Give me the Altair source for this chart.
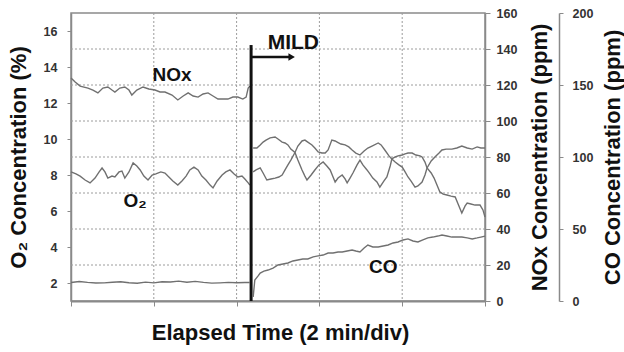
import altair as alt
import pandas as pd

# ---------------- data (time in minutes, 2 min per division) ----------------
nox_pre_t = [0.00, 0.10, 0.22, 0.41, 0.53, 0.65, 0.77, 0.89, 0.99, 1.06, 1.18, 1.30, 1.40, 1.47,
             1.59, 1.74, 1.88, 2.03, 2.15, 2.27, 2.44, 2.58, 2.71, 2.83, 2.95, 3.07, 3.19, 3.31,
             3.43, 3.55, 3.67, 3.79, 3.91, 4.03, 4.15, 4.23, 4.28, 4.32]
nox_pre_v = [123.9, 121.7, 119.4, 118.3, 117.2, 115.6, 118.3, 118.9, 117.2, 116.1, 118.3, 118.9,
             117.2, 114.4, 117.2, 118.9, 117.8, 117.2, 116.1, 116.1, 114.4, 111.7, 113.9, 115.6,
             113.9, 113.3, 115.0, 115.6, 113.9, 112.2, 112.2, 112.2, 113.3, 113.3, 112.2, 113.3,
             118.3, 119.4]
nox_post_t = [4.40, 4.49, 4.57, 4.64, 4.71, 4.81, 4.93, 5.00, 5.10, 5.17, 5.24, 5.31, 5.41, 5.48,
              5.58, 5.65, 5.70, 5.80, 5.89, 5.99, 6.09, 6.18, 6.26, 6.33, 6.38, 6.45, 6.55, 6.62,
              6.67, 6.74, 6.81, 6.91, 6.98, 7.05, 7.15, 7.22, 7.29, 7.39, 7.46, 7.56, 7.63, 7.71,
              7.75, 7.83, 7.90, 8.00, 8.07, 8.14, 8.24, 8.33, 8.43, 8.48, 8.55, 8.60, 8.70, 8.77,
              8.84, 8.91, 8.99, 9.08, 9.18, 9.28, 9.35, 9.44, 9.52, 9.57, 9.66, 9.76, 9.88, 9.95,
              10.00]
nox_post_v = [85.0, 85.0, 86.7, 88.3, 89.4, 90.6, 91.1, 90.0, 88.3, 87.8, 86.7, 84.4, 82.5, 78.3,
              72.8, 69.4, 67.2, 70.0, 72.8, 75.6, 77.2, 75.0, 72.8, 68.9, 66.1, 68.3, 70.0, 67.8,
              65.6, 68.3, 71.1, 75.6, 78.3, 75.6, 72.8, 70.6, 68.3, 66.1, 63.3, 66.7, 68.9, 75.0,
              78.9, 80.0, 80.6, 81.1, 81.7, 82.2, 82.2, 81.1, 80.6, 80.0, 77.2, 73.9, 71.1, 68.3,
              64.4, 60.6, 59.4, 58.9, 58.3, 57.8, 53.9, 48.9, 52.8, 54.4, 53.9, 53.3, 53.3, 50.6,
              46.7]

o2_pre_t = [0.00, 0.12, 0.22, 0.34, 0.46, 0.58, 0.68, 0.75, 0.82, 0.89, 0.99, 1.06, 1.16, 1.23,
            1.30, 1.40, 1.50, 1.59, 1.67, 1.76, 1.86, 1.96, 2.05, 2.17, 2.27, 2.34, 2.46, 2.58,
            2.68, 2.78, 2.87, 2.97, 3.07, 3.16, 3.26, 3.36, 3.43, 3.53, 3.65, 3.74, 3.84, 3.94,
            4.03, 4.13, 4.20, 4.28, 4.32]
o2_pre_v = [8.17, 8.06, 7.94, 7.72, 7.56, 7.83, 8.17, 8.39, 8.17, 7.83, 7.94, 7.89, 8.17, 8.22,
            7.83, 8.17, 8.67, 8.50, 8.28, 7.94, 7.72, 8.00, 8.06, 8.17, 8.11, 7.94, 7.67, 7.44,
            7.67, 7.94, 8.28, 8.44, 8.28, 7.94, 7.72, 7.44, 7.28, 7.67, 8.00, 8.17, 8.28, 8.06,
            7.89, 7.94, 7.78, 7.56, 7.44]
o2_post_t = [4.40, 4.47, 4.57, 4.64, 4.73, 4.83, 4.93, 5.02, 5.10, 5.17, 5.24, 5.31, 5.41, 5.48,
             5.58, 5.65, 5.72, 5.82, 5.89, 5.97, 6.06, 6.14, 6.21, 6.30, 6.38, 6.43, 6.52, 6.62,
             6.71, 6.79, 6.88, 6.98, 7.08, 7.17, 7.27, 7.42, 7.49, 7.58, 7.68, 7.75, 7.83, 7.92,
             8.00, 8.07, 8.14, 8.21, 8.31, 8.38, 8.48, 8.55, 8.60, 8.70, 8.79, 8.89, 8.96, 9.06,
             9.20, 9.32, 9.44, 9.57, 9.69, 9.81, 9.90, 10.00]
o2_post_v = [8.17, 8.28, 8.39, 8.11, 7.72, 7.78, 7.83, 7.89, 8.00, 8.28, 8.56, 8.83, 9.25, 9.61,
             9.89, 9.94, 9.83, 9.67, 9.50, 9.28, 9.22, 9.22, 9.39, 9.94, 9.89, 9.83, 9.72, 9.67,
             9.56, 9.39, 9.22, 9.11, 9.33, 9.50, 9.61, 9.78, 9.67, 9.39, 9.06, 8.89, 8.72, 8.56,
             8.44, 8.17, 7.89, 7.67, 7.33, 7.39, 7.61, 8.00, 8.39, 8.78, 9.00, 9.22, 9.39, 9.44,
             9.44, 9.50, 9.61, 9.50, 9.44, 9.56, 9.50, 9.50]

co_pre_t = [0.0, 0.2, 0.4, 0.6, 0.8, 1.0, 1.2, 1.4, 1.6, 1.8, 2.0, 2.2, 2.4, 2.6, 2.8, 3.0,
            3.2, 3.4, 3.6, 3.8, 4.0, 4.2, 4.32]
co_pre_v = [12.8, 13.5, 12.9, 12.5, 12.6, 13.0, 13.4, 12.7, 12.3, 13.1, 12.6, 13.4, 13.2, 13.8,
            13.0, 13.6, 12.9, 12.4, 12.6, 12.9, 12.7, 12.8, 12.8]
co_post_t = [4.40, 4.44, 4.52, 4.57, 4.66, 4.76, 4.88, 5.00, 5.12, 5.24, 5.36, 5.48, 5.60, 5.72,
             5.85, 5.97, 6.09, 6.21, 6.33, 6.45, 6.55, 6.67, 6.79, 6.88, 6.98, 7.08, 7.17, 7.29,
             7.42, 7.54, 7.66, 7.78, 7.90, 8.02, 8.14, 8.26, 8.38, 8.50, 8.62, 8.74, 8.86, 8.96,
             9.08, 9.20, 9.32, 9.44, 9.57, 9.69, 9.81, 9.90, 10.00]
co_post_v = [2.8, 14.6, 17.4, 19.4, 20.8, 21.5, 22.9, 25.0, 25.7, 26.4, 27.8, 28.5, 29.2, 29.2,
             30.6, 31.3, 31.9, 33.3, 33.3, 34.0, 34.0, 34.7, 35.4, 34.7, 34.0, 36.8, 38.9, 37.5,
             37.5, 38.2, 38.9, 40.3, 41.0, 42.4, 43.1, 41.7, 41.0, 42.4, 43.8, 44.4, 45.1, 45.8,
             45.1, 44.4, 44.4, 44.4, 43.8, 43.1, 43.8, 44.4, 45.1]

x_ticks = [0, 2, 4, 6, 8, 10]
o2_ticks = [2, 4, 6, 8, 10, 12, 14, 16]
nox_ticks = [0, 20, 40, 60, 80, 100, 120, 140, 160]
co_ticks = [0, 50, 100, 150, 200]
x_grid = [2, 4, 6, 8]
nox_grid = [20, 40, 60, 80, 100, 120, 140]

# annotations (data units of time / O2 axis)
switch_t = 4.35
ann_text = ["NOx", "O₂", "CO"]
ann_t = [2.44, 1.55, 7.54]
ann_y = [13.58, 6.56, 2.89]

FONT = "Liberation Sans"
LINE = "#707070"
GRID = "#9c9c9c"


def frame(pre_t, pre_v, post_t, post_v):
    return pd.DataFrame({
        "t": pre_t + post_t,
        "v": pre_v + post_v,
        "seg": ["pre"] * len(pre_t) + ["post"] * len(post_t),
    })


nox_df = frame(nox_pre_t, nox_pre_v, nox_post_t, nox_post_v)
o2_df = frame(o2_pre_t, o2_pre_v, o2_post_t, o2_post_v)
co_df = frame(co_pre_t, co_pre_v, co_post_t, co_post_v)

x_scale = alt.Scale(domain=[0, 10], nice=False, zero=False)
x_axis = alt.Axis(values=x_ticks, labels=False, tickSize=5, grid=False,
                  title="Elapsed Time (2 min/div)",
                  titleX=209, titleY=31, titleBaseline="middle", titleAlign="center",
                  domainWidth=2)
X = alt.X("t:Q", scale=x_scale, axis=x_axis)

o2_scale = alt.Scale(domain=[1, 17], nice=False, zero=False)
nox_scale = alt.Scale(domain=[0, 160], nice=False)
nox_axis = alt.Axis(orient="right", values=nox_ticks, grid=False, tickSize=5, labelPadding=6,
                    labelOverlap=False,
                    title="NOx Concentration (ppm)", titleX=54, titleY=144,
                    titleAngle=270, titleBaseline="middle", titleAlign="center")

# ---- NOx layer (dotted grid drawn from the NOx / time scales) ----
grid_h_df = pd.DataFrame({"v": nox_grid, "t": [0] * len(nox_grid), "t2": [10] * len(nox_grid)})
grid_h = alt.Chart(grid_h_df).mark_rule(
    color=GRID, strokeWidth=1, strokeDash=[2, 2]).encode(
    x=X, x2="t2:Q",
    y=alt.Y("v:Q", scale=nox_scale, axis=nox_axis))
grid_v = alt.Chart(pd.DataFrame({"t": x_grid})).mark_rule(
    color=GRID, strokeWidth=1, strokeDash=[2, 2]).encode(
    x=alt.X("t:Q", scale=x_scale, axis=x_axis))

nox_line = alt.Chart(nox_df).mark_line(color=LINE, strokeWidth=1.4).encode(
    x=X,
    y=alt.Y("v:Q", scale=nox_scale, axis=nox_axis),
    detail="seg:N",
)
nox_layer = alt.layer(grid_h, grid_v, nox_line)

# ---- O2 layer with annotations ----
o2_axis = alt.Axis(orient="left", values=o2_ticks, grid=False, tickSize=4, labelPadding=10,
                   labelOverlap=False, title="O₂ Concentration (%)",
                   titleX=-53, titleY=144, titleAngle=270,
                   titleBaseline="middle", titleAlign="center")
o2_line = alt.Chart(o2_df).mark_line(color=LINE, strokeWidth=1.4).encode(
    x=X,
    y=alt.Y("v:Q", scale=o2_scale, axis=o2_axis),
    detail="seg:N",
)

bar = alt.Chart(pd.DataFrame({"t": [switch_t], "top": [15.22], "bot": [1.0]})).mark_rule(
    color="#111", strokeWidth=3).encode(
    x=X, y=alt.Y("top:Q", scale=o2_scale, axis=o2_axis), y2="bot:Q")

arrow = alt.Chart(pd.DataFrame({"t": [switch_t], "t2": [5.3], "y": [14.56]})).mark_rule(
    color="#111", strokeWidth=2.5).encode(
    x=X, x2="t2:Q", y=alt.Y("y:Q", scale=o2_scale, axis=o2_axis))

head = alt.Chart(pd.DataFrame({"t": [5.33], "y": [14.56]})).mark_point(
    shape="triangle-right", filled=True, color="#111", size=55, opacity=1).encode(
    x=X, y=alt.Y("y:Q", scale=o2_scale, axis=o2_axis))

mild = alt.Chart(pd.DataFrame({"t": [5.37], "y": [15.31], "s": ["MILD"]})).mark_text(
    font=FONT, fontSize=21, fontWeight="bold", color="#111").encode(
    x=X, y=alt.Y("y:Q", scale=o2_scale, axis=o2_axis), text="s:N")

labels = alt.Chart(pd.DataFrame({"t": ann_t, "y": ann_y, "s": ann_text})).mark_text(
    font=FONT, fontSize=19, fontWeight="bold", color="#111").encode(
    x=X, y=alt.Y("y:Q", scale=o2_scale, axis=o2_axis), text="s:N")

o2_layer = alt.layer(o2_line, bar, arrow, head, mild, labels)

# ---- CO layer ----
co_layer = alt.Chart(co_df).mark_line(color=LINE, strokeWidth=1.4).encode(
    x=X,
    y=alt.Y("v:Q", scale=alt.Scale(domain=[0, 200], nice=False),
            axis=alt.Axis(orient="right", offset=74, values=co_ticks, grid=False, tickSize=4,
                          labelPadding=9, labelOverlap=False,
                          title="CO Concentration (ppm)", titleX=53,
                          titleY=144, titleAngle=270, titleBaseline="middle",
                          titleAlign="center")),
    detail="seg:N",
)

chart = alt.layer(nox_layer, o2_layer, co_layer).resolve_scale(y="independent").properties(
    width=414, height=288,
    autosize=alt.AutoSizeParams(type="none"),
    padding={"left": 71, "top": 13, "right": 139, "bottom": 51},
    background="white",
).configure_axis(
    labelFont=FONT, labelFontSize=12.5, labelFontWeight="bold", labelColor="#333",
    titleFont=FONT, titleFontSize=22, titleFontWeight="bold", titleColor="#111",
    domainColor="#8a8a8a", tickColor="#8a8a8a", domainWidth=1.5,
).configure_view(stroke="#8a8a8a", strokeWidth=1.5)

chart.save("out.html", embed_options={"renderer": "svg", "actions": False})
